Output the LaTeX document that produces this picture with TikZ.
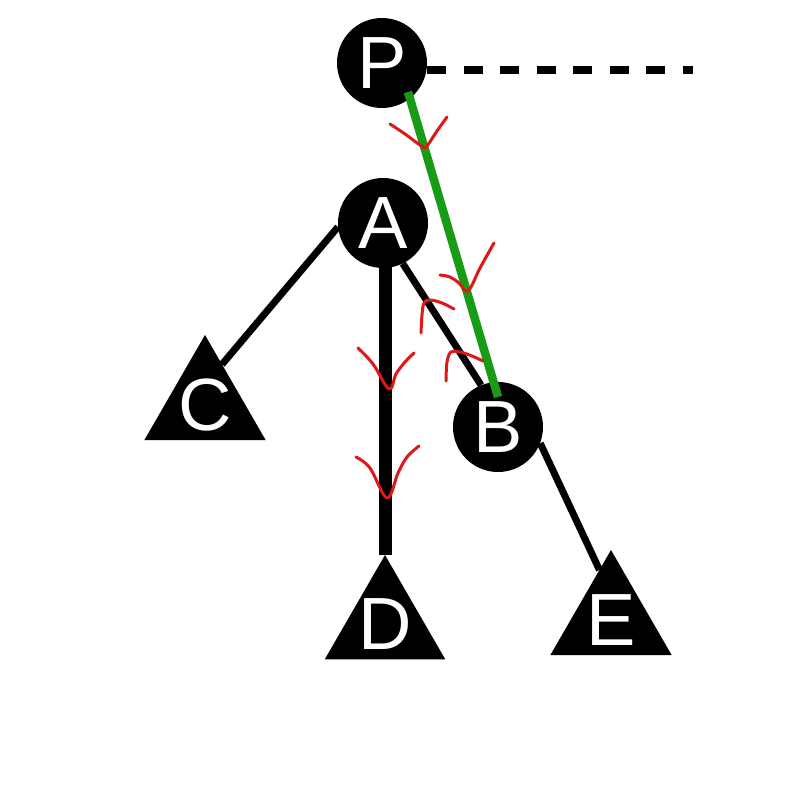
\documentclass[tikz,border=0pt]{standalone}
\usepackage{fontspec}
\setmainfont{Liberation Sans}
\usetikzlibrary{shapes.geometric,calc}
\pgfdeclarelayer{bg}
\pgfsetlayers{bg,main}
\definecolor{mygreen}{RGB}{24,156,24}
\definecolor{myred}{RGB}{222,24,24}
\tikzset{
  vert/.style={circle,fill=black,text=white,minimum size=90pt,inner sep=0pt,
    font=\fontsize{74}{74}\selectfont},
  sub/.style={regular polygon,regular polygon sides=3,fill=black,
    minimum size=140pt,inner sep=0pt,outer sep=0pt,
    label={[text=white,font=\fontsize{74}{74}\selectfont,inner sep=0pt]center:#1}},
  blackedge/.style={line width=7pt,black},
  thickedge/.style={line width=13pt,black},
  pathedge/.style={line width=8.5pt,mygreen},
  redmark/.style={line width=3pt,myred,line cap=round,line join=round},
}
\begin{document}
\begin{tikzpicture}[x=1pt,y=-1pt]
\useasboundingbox (0,0) rectangle (800,800);
\node[vert] (P) at (382,63) {P};
\node[vert] (A) at (383,223) {A};
\node[vert] (B) at (498,427) {B};
\node[sub=C] (C) at (205,405) {};
\node[sub=D,minimum size=139pt] (D) at (385,624.5) {};
\node[sub=E] (E) at (611,620) {};
\coordinate (dashstart) at ($(P.center)+(45,7)$);
\coordinate (dashend) at (693,70);
\begin{pgfonlayer}{bg}
\fill[white] (0,0) rectangle (800,800);
\draw[blackedge] (A.185) -- ($(C.corner 1)!0.28!(C.corner 3)$);
\draw[thickedge] (D.corner 1 |- A.center) -- (D.corner 1);
\draw[blackedge] (A.-64) -- (B.112);
\draw[blackedge] (B.-21) -- ($(E.corner 1)!0.19!(E.corner 2)$);
\draw[line width=7pt,dash pattern=on 19pt off 17.5pt] (dashstart) -- (dashend);
\end{pgfonlayer}
\draw[pathedge] ($(P.center)+(26,29)$) -- ($(B.center)+(0,-30)$);
% red marks
\draw[redmark] plot[smooth,tension=0.6] coordinates {(390,124) (405,134) (423,147) (427,146) (437,131) (447,117)};
\draw[redmark] plot[smooth,tension=0.6] coordinates {(440,275) (450,277) (459,283) (468,291) (480,268) (494,243)};
\draw[redmark] plot[smooth,tension=0.6] coordinates {(421,333) (422,315) (424,303) (430,300) (442,303) (454,309)};
\draw[redmark] plot[smooth,tension=0.6] coordinates {(446,381) (447,362) (451,352) (460,352) (472,356) (483,361)};
\draw[redmark] plot[smooth,tension=0.6] coordinates {(358,348) (373,364) (389,389) (396,374) (405,362) (414,353)};
\draw[redmark] plot[smooth,tension=0.6] coordinates {(356,457) (370,468) (387,498) (398,473) (407,457) (419,446)};
\end{tikzpicture}
\end{document}
